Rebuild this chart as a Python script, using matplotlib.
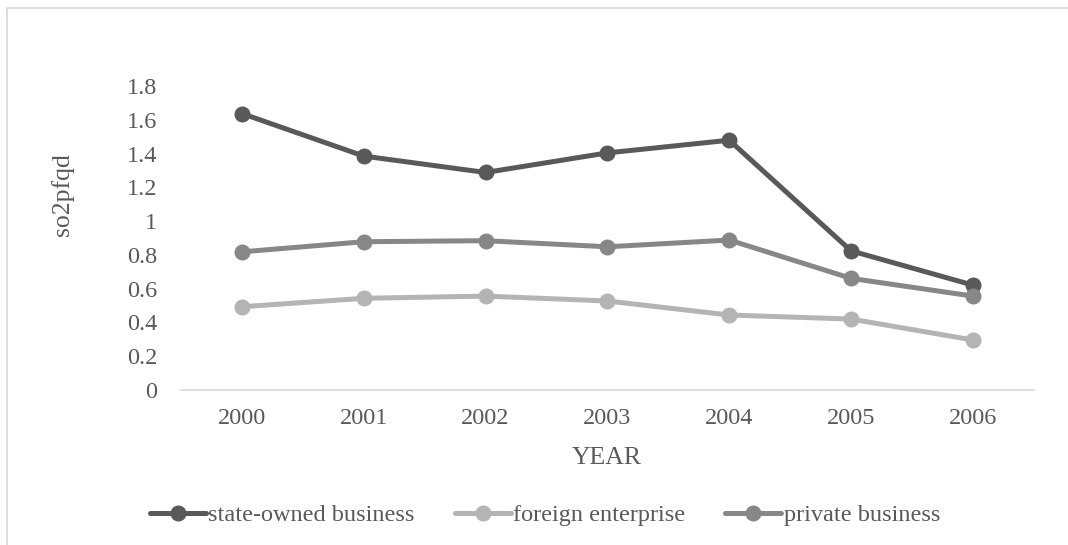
import matplotlib
matplotlib.use('Agg')
import matplotlib.pyplot as plt
from matplotlib.patches import Rectangle

plt.rcParams['font.family'] = ['Liberation Serif', 'DejaVu Serif']

years = ['2000', '2001', '2002', '2003', '2004', '2005', '2006']
state_owned = [1.637, 1.385, 1.288, 1.404, 1.479, 0.824, 0.621]
foreign = [0.493, 0.543, 0.556, 0.527, 0.444, 0.420, 0.296]
private = [0.818, 0.878, 0.884, 0.848, 0.888, 0.661, 0.556]

series = [
    ('state-owned business', state_owned, '#595959'),
    ('foreign enterprise', foreign, '#b4b4b4'),
    ('private business', private, '#878787'),
]

txt = '#595959'

fig = plt.figure(figsize=(10.68, 5.45), dpi=100)
ax = fig.add_axes([0.1695, 0.2844, 0.7985, 0.5578])

x = list(range(len(years)))
for name, vals, col in series:
    ax.plot(x, vals, color=col, linewidth=3.6, marker='o', markersize=10.5,
            label=name, solid_capstyle='round')

ax.set_xlim(-0.5, len(years) - 0.5)
ax.set_ylim(0, 1.8)
ax.set_yticks([0, 0.2, 0.4, 0.6, 0.8, 1.0, 1.2, 1.4, 1.6, 1.8])
ax.set_yticklabels(['0', '0.2', '0.4', '0.6', '0.8', '1', '1.2', '1.4', '1.6', '1.8'])
ax.set_xticks(x)
ax.set_xticklabels(years)
ax.tick_params(length=0, labelsize=17.5, labelcolor=txt)
ax.tick_params(axis='x', pad=13)
ax.tick_params(axis='y', pad=17)

for s in ['top', 'right', 'left']:
    ax.spines[s].set_visible(False)
ax.spines['bottom'].set_color('#d9d9d9')
ax.spines['bottom'].set_linewidth(1.2)

fig.text(607 / 1068, 1 - 458 / 545, 'YEAR', fontsize=18.5, color=txt,
         ha='center', va='center')
fig.text(63 / 1068, 1 - 195 / 545, 'so2pfqd', fontsize=18.5, color=txt,
         ha='center', va='center', rotation=90)

ax.legend(loc='center', bbox_to_anchor=(545 / 1068, 1 - 515 / 545),
          bbox_transform=fig.transFigure, ncol=3, frameon=False,
          fontsize=17.5, labelcolor=txt, handlelength=2.3, handletextpad=0.1,
          columnspacing=1.65)

# light outer frame
fig.patches.append(Rectangle((7 / 1068, -0.1), 1.2, 1 - 8 / 545 + 0.1,
                             transform=fig.transFigure, fill=False,
                             edgecolor='#d9d9d9', linewidth=1.2))

fig.savefig('out.png', dpi=100)
